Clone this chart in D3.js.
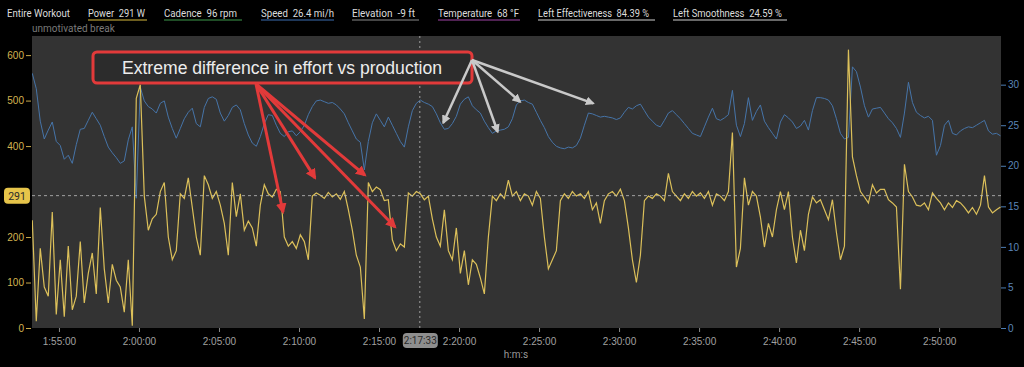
<!DOCTYPE html>
<html>
<head>
<meta charset="utf-8">
<script src="https://cdn.jsdelivr.net/npm/d3@7"></script>
<style>
body { margin: 0; background: #000; }
svg { display: block; font-family: Roboto, "Noto Sans", sans-serif; }
</style>
</head>
<body>
<svg id="chart" width="1024" height="367"></svg>
<script>
// samples every 15 s, starting at 1:53:20
var startSec = 6800;
var stepSec = 15;
var power = [237,15,175,90,70,255,30,150,25,180,
    40,70,190,55,120,165,75,265,130,55,
    140,105,90,35,150,5,505,535,290,215,
    240,250,300,320,200,150,170,295,285,330,
    265,200,160,335,315,285,300,270,230,160,
    320,245,295,215,235,220,180,270,315,295,
    288,305,300,200,180,190,175,205,190,150,
    290,297,292,285,298,288,295,283,300,260,
    215,160,134,20,320,300,310,304,280,282,
    194,170,185,178,297,290,300,295,282,290,
    240,200,180,260,170,150,220,120,170,95,
    150,140,110,75,200,290,280,295,285,325,
    290,300,280,295,290,270,300,285,200,130,
    150,170,280,295,285,300,290,295,285,300,
    260,275,230,280,295,300,290,305,280,220,
    150,100,160,280,290,285,295,290,280,340,
    300,290,280,295,285,300,290,297,285,300,
    270,295,290,280,300,430,134,175,330,270,
    300,290,244,178,230,200,260,300,260,300,
    200,143,215,170,250,288,275,282,260,238,
    282,210,150,180,612,376,335,300,288,275,
    315,297,305,305,282,275,266,85,360,300,
    288,270,268,275,260,297,285,275,260,275,
    265,280,275,265,253,265,250,270,335,266,
    253,260,266];
var speed = [31.4,29.5,25.5,23.3,24.4,25.4,23.0,22.5,20.8,21.3,
    20.3,22.6,24.5,24.6,25.6,26.6,25.8,25.0,23.6,22.3,
    21.6,21.0,20.3,20.6,23.2,24.8,16.0,29.7,28.0,27.3,
    27.0,26.5,27.7,28.0,26.0,24.6,23.4,24.6,25.8,26.6,
    27.1,25.2,24.8,27.2,28.3,28.5,28.2,26.5,25.5,26.2,
    27.2,27.5,26.9,25.2,23.8,22.8,22.4,23.6,25.2,26.3,
    26.2,25.0,24.0,23.6,24.2,24.3,23.7,24.2,25.0,26.3,
    27.3,28.0,28.1,27.9,27.7,27.8,27.5,27.0,26.4,25.3,
    24.3,23.3,22.9,19.5,23.0,25.3,26.4,25.6,24.8,26.0,
    25.0,24.0,23.0,22.3,24.8,26.8,27.7,28.1,27.8,27.6,
    27.3,26.4,25.3,24.5,24.6,25.2,26.1,27.6,28.2,28.5,
    27.4,26.9,26.5,25.5,24.7,24.0,24.3,24.4,24.5,24.8,
    25.8,27.5,28.0,28.1,27.8,27.6,26.6,25.6,24.7,23.6,
    22.9,22.4,22.2,22.1,22.3,22.2,22.5,23.4,25.0,26.5,
    26.4,26.2,26.0,26.1,26.0,25.9,25.7,25.9,26.6,27.2,
    27.0,27.4,27.6,26.8,26.0,25.5,25.0,24.8,25.6,26.5,
    26.8,26.3,25.8,25.2,24.6,24.0,23.8,23.6,24.8,26.0,
    27.1,25.8,25.6,25.9,26.3,29.3,25.0,23.6,25.2,28.4,
    25.6,26.7,27.5,25.5,24.7,24.0,23.3,25.4,26.3,25.9,
    25.4,24.6,24.9,25.6,24.4,26.8,28.4,28.4,28.3,28.1,
    27.4,25.8,24.0,23.3,23.5,32.2,31.6,29.7,27.4,26.0,
    27.0,27.1,27.2,26.5,25.8,25.3,24.6,23.5,26.5,30.3,
    27.8,26.6,26.2,25.9,26.1,25.6,21.3,22.5,25.0,25.6,
    24.0,23.8,24.3,24.6,24.8,24.7,25.0,25.3,25.6,24.3,
    23.9,24.0,23.7];
var timeTicks = [6900,7200,7500,7800,8100,8400,8700,9000,9300,9600,9900,10200];
var powerTicks = [0,100,200,400,500,600];   // 300 sits under the cursor badge
var speedTicks = [0,5,10,15,20,25,30];
var cursorSec = 8253;   // 2:17:33
var cursorPower = 291;

var headLabels = ["Entire Workout","Power","Cadence","Speed","Elevation","Temperature","Left Effectiveness","Left Smoothness"];
var headValues = ["","291 W","96 rpm","26.4 mi/h","-9 ft","68 \u00b0F","84.39 %","24.59 %"];
var headColors = [null,"#d9bb3f","#3f9a4c","#3d6fb2","#8a8a8a","#a044a6","#cfcfcf","#cfcfcf"];
var noteText = "Extreme difference in effort vs production";
var sectionText = "unmotivated break";
// arrow targets: [seconds, watts] and [seconds, mph]
var redTargets = [[7740,255],[7860,330],[8047,336],[8160,222]];
var grayTargets = [[8341,25.3],[8545,24.2],[8629,27.9],[8903,27.7]];

var pad_left = 32, pad_right = 1001, pad_top = 36, pad_bot = 328;
var headX = [7,88,164,261,352,438,538,673];
var headW = [63,57,73,73,63,81,111,109];
var lineW = [0,59,78,73,67,82,117,114];

function hms(s) {
    var f = d3.format("02");
    return Math.floor(s / 3600) + ":" + f(Math.floor(s % 3600 / 60)) + ":" + f(s % 60);
}

function drawGraph() {
    var svg = d3.select("#chart");
    var x = d3.scaleLinear().domain([6799, 10432]).range([pad_left, pad_right]);
    var yPow = d3.scaleLinear().domain([0, 642]).range([pad_bot, pad_top]);
    var ySpd = d3.scaleLinear().domain([0, 36]).range([pad_bot, pad_top]);

    var defs = svg.append("defs");
    defs.append("clipPath").attr("id", "clip").append("rect")
        .attr("x", pad_left).attr("y", pad_top)
        .attr("width", pad_right - pad_left).attr("height", pad_bot - pad_top);
    [["redHead", "#e23a3a"], ["grayHead", "#c9c9c9"]].forEach(function (m) {
        defs.append("marker").attr("id", m[0])
            .attr("viewBox", "0 0 10 10").attr("refX", 8).attr("refY", 5)
            .attr("markerWidth", 3.6).attr("markerHeight", 3.6)
            .attr("orient", "auto")
            .append("path").attr("d", "M0,0L10,5L0,10z").attr("fill", m[1]);
    });

    // header
    var head = svg.append("g").attr("font-size", "10.5px");
    headLabels.forEach(function (lab, i) {
        var txt = headValues[i] ? lab + "\u00a0\u00a0" + headValues[i] : lab;
        head.append("text").attr("x", headX[i]).attr("y", 17)
            .attr("fill", "#dcdcdc").attr("textLength", headW[i])
            .attr("lengthAdjust", "spacingAndGlyphs").text(txt);
        if (headColors[i]) {
            head.append("line").attr("x1", headX[i]).attr("x2", headX[i] + lineW[i])
                .attr("y1", 20).attr("y2", 20)
                .attr("stroke", headColors[i]).attr("stroke-width", 1.2);
        }
    });
    svg.append("text").attr("x", 32).attr("y", 32).attr("font-size", "10px")
        .attr("fill", "#7a7a7a").text(sectionText);

    svg.append("rect").attr("x", pad_left).attr("y", pad_top)
        .attr("width", pad_right - pad_left).attr("height", pad_bot - pad_top)
        .attr("fill", "#333333");

    var plot = svg.append("g").attr("clip-path", "url(#clip)");
    var tx = function (d, i) { return x(startSec + i * stepSec); };
    plot.append("path").datum(speed)
        .attr("d", d3.line().x(tx).y(function (d) { return ySpd(d); }))
        .attr("fill", "none").attr("stroke", "#4674a8").attr("stroke-width", 1);
    plot.append("path").datum(power)
        .attr("d", d3.line().x(tx).y(function (d) { return yPow(d); }))
        .attr("fill", "none").attr("stroke", "#dcc05a").attr("stroke-width", 1.2);

    // cursor lines
    svg.append("line").attr("x1", pad_left).attr("x2", pad_right)
        .attr("y1", yPow(cursorPower)).attr("y2", yPow(cursorPower))
        .attr("stroke", "#bdbdbd").attr("stroke-dasharray", "3,3").attr("opacity", 0.8);
    svg.append("line").attr("x1", x(cursorSec)).attr("x2", x(cursorSec))
        .attr("y1", pad_top).attr("y2", pad_bot)
        .attr("stroke", "#bdbdbd").attr("stroke-dasharray", "2,3").attr("opacity", 0.8);

    // axes
    var ax = svg.append("g").attr("transform", "translate(" + (pad_left - 1) + ",0)")
        .call(d3.axisLeft(yPow).tickValues(powerTicks).tickSize(5).tickPadding(2));
    ax.selectAll("line").attr("stroke", "#c9a94a");
    ax.selectAll("text").attr("fill", "#d4b451").attr("font-size", "10px");
    ax.select(".domain").remove();

    var ar = svg.append("g").attr("transform", "translate(" + pad_right + ",0)")
        .call(d3.axisRight(ySpd).tickValues(speedTicks).tickSize(5).tickPadding(2));
    ar.selectAll("line").attr("stroke", "#4d7db3");
    ar.selectAll("text").attr("fill", "#5b86b8").attr("font-size", "10px");
    ar.select(".domain").remove();

    var ab = svg.append("g").attr("transform", "translate(0," + pad_bot + ")")
        .call(d3.axisBottom(x).tickValues(timeTicks).tickSize(4).tickPadding(6).tickFormat(hms));
    ab.selectAll("line").attr("stroke", "#888");
    ab.selectAll("text").attr("fill", "#a0a0a0").attr("font-size", "10px");
    ab.select(".domain").remove();
    svg.append("text").attr("x", 516).attr("y", 358).attr("text-anchor", "middle")
        .attr("font-size", "10px").attr("fill", "#9a9a9a").text("h:m:s");

    // cursor badges
    var py = yPow(cursorPower);
    svg.append("rect").attr("x", 4).attr("y", py - 8).attr("width", 26).attr("height", 16)
        .attr("rx", 4).attr("fill", "#e6c44a");
    svg.append("text").attr("x", 17).attr("y", py + 4).attr("text-anchor", "middle")
        .attr("font-size", "10.5px").attr("fill", "#2a2a2a").text(cursorPower);
    var cx = x(cursorSec);
    svg.append("rect").attr("x", cx - 17).attr("y", 333).attr("width", 35).attr("height", 15)
        .attr("rx", 4).attr("fill", "#8e8e8e");
    svg.append("text").attr("x", cx + 0.5).attr("y", 344).attr("text-anchor", "middle")
        .attr("font-size", "10px").attr("fill", "#2a2a2a").text(hms(cursorSec));

    // callout
    var note = svg.append("g");
    note.append("rect").attr("x", 93).attr("y", 52).attr("width", 379).attr("height", 31)
        .attr("rx", 4).attr("fill", "#2c2c2c").attr("stroke", "#e23a3a").attr("stroke-width", 3);
    note.append("text").attr("x", 282).attr("y", 74).attr("text-anchor", "middle")
        .attr("font-family", "'Liberation Sans', Arial, sans-serif").attr("font-size", "17.6px")
        .attr("fill", "#ececec").text(noteText);
    redTargets.forEach(function (d) {
        note.append("line").attr("x1", 256).attr("y1", 84)
            .attr("x2", x(d[0])).attr("y2", yPow(d[1]))
            .attr("stroke", "#e23a3a").attr("stroke-width", 3)
            .attr("marker-end", "url(#redHead)");
    });
    grayTargets.forEach(function (d) {
        note.append("line").attr("x1", 472).attr("y1", 60)
            .attr("x2", x(d[0])).attr("y2", ySpd(d[1]))
            .attr("stroke", "#c9c9c9").attr("stroke-width", 2.5)
            .attr("marker-end", "url(#grayHead)");
    });
}

drawGraph();
</script>
</body>
</html>
